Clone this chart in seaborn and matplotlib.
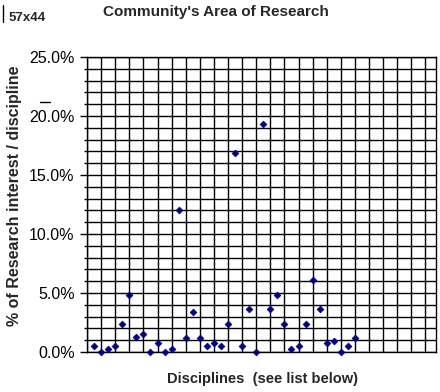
import matplotlib
matplotlib.use("Agg")
import matplotlib.pyplot as plt
import seaborn as sns
import pandas as pd
import numpy as np
from matplotlib.ticker import MultipleLocator, PercentFormatter
from matplotlib.lines import Line2D

# ---- data ----
disciplines = list(range(1, 39))
share_pct = [0.53, 0.0, 0.28, 0.53, 2.39, 4.85, 1.24, 1.49, 0.0, 0.79,
             0.0, 0.28, 12.03, 1.21, 3.41, 1.21, 0.53, 0.79, 0.53, 2.39,
             16.86, 0.53, 3.66, 0.0, 19.32, 3.66, 4.85, 2.39, 0.28, 0.53,
             2.39, 6.06, 3.66, 0.79, 0.96, 0.0, 0.53, 1.21]

title = "Community's Area of Research"
xlabel = "Disciplines  (see list below)"
ylabel = "% of Research interest / discipline"

df = pd.DataFrame({"discipline": disciplines, "share": share_pct})

sns.set_style("white")
plt.rcParams['font.family'] = ['Liberation Sans', 'DejaVu Sans']

W, H = 440, 392
fig = plt.figure(figsize=(W / 100, H / 100), dpi=100)
ax = fig.add_axes([87 / W, 1 - 352 / H, (436 - 87) / W, (352 - 57) / H])

sns.scatterplot(data=df, x="discipline", y="share", ax=ax, marker="D",
                s=12, color="#000080", edgecolor="#000080", linewidth=0.5,
                zorder=5, clip_on=False, legend=False)

ax.set_xlim(0, 49.5)
ax.set_ylim(0, 25)

# grid
ax.yaxis.set_major_locator(MultipleLocator(5))
ax.yaxis.set_minor_locator(MultipleLocator(1))
ax.xaxis.set_major_locator(MultipleLocator(2))
ax.yaxis.set_major_formatter(PercentFormatter(decimals=1))
ax.grid(True, which="both", axis="y", color="black", linewidth=1.0)
ax.grid(True, which="major", axis="x", color="black", linewidth=1.0)
ax.set_axisbelow(True)

ax.tick_params(axis="x", which="both", length=0, labelbottom=False)
ax.tick_params(axis="y", which="major", length=5, width=1, color="black",
               labelsize=11.5, pad=4, direction="out", left=True)
ax.tick_params(axis="y", which="minor", length=2.5, width=1, color="black",
               direction="out", left=True)
for lbl in ax.get_yticklabels():
    lbl.set_color("black")

for s in ax.spines.values():
    s.set_color("black")
    s.set_linewidth(1.0)

ax.set_xlabel("")
ax.set_ylabel("")

fig.text(216 / W, 1 - 12 / H, title, ha="center", va="center",
         fontsize=11, fontweight="bold")
fig.text(262 / W, 1 - 379 / H, xlabel, ha="center", va="center",
         fontsize=10.5, fontweight="bold")
fig.text(15 / W, 1 - 196 / H, ylabel, ha="center", va="center",
         rotation=90, fontsize=11.5, fontweight="bold")
fig.text(9 / W, 1 - 18 / H, "57x44", ha="left", va="center",
         fontsize=9.5, fontweight="bold")

fig.add_artist(Line2D([3 / W, 3 / W], [1 - 5 / H, 1 - 22 / H],
                      transform=fig.transFigure, color="black", linewidth=1))
fig.add_artist(Line2D([40 / W, 50 / W], [1 - 102 / H, 1 - 102 / H],
                      transform=fig.transFigure, color="black", linewidth=1))

fig.savefig("out.png", dpi=100)
